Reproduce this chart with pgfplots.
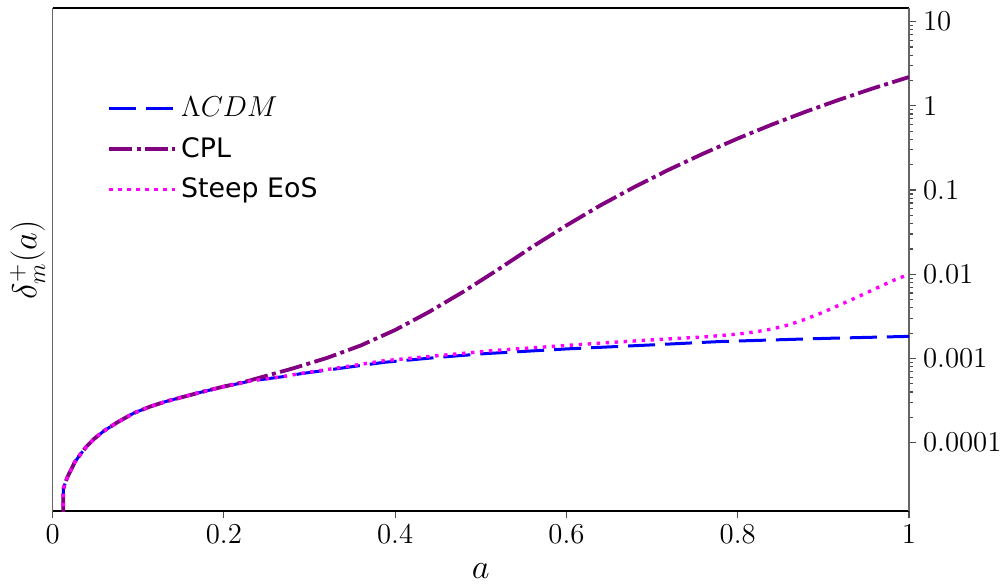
\documentclass[border=0pt]{standalone}
\usepackage{fontspec}
\usepackage{pgfplots}
\pgfplotsset{compat=1.18}
\newfontfamily\dejavu{DejaVu Sans}
\definecolor{mplpurple}{RGB}{128,0,128}
\definecolor{mplblue}{RGB}{0,0,255}
\definecolor{mplmagenta}{RGB}{255,0,255}

\begin{document}
\begin{tikzpicture}
\begin{axis}[
  scale only axis, width=428.2pt, height=251.4pt,
  at={(0,0)}, anchor=south west,
  xmin=0, xmax=1, ymode=log, ymin=1.54e-5, ymax=14.4,
  xtick={0,0.2,0.4,0.6,0.8,1},
  xticklabels={$0$,$0.2$,$0.4$,$0.6$,$0.8$,$1$},
  ytick={1e-4,1e-3,1e-2,1e-1,1,10},
  yticklabels={$0.0001$,$0.001$,$0.01$,$0.1$,$1$,$10$},
  xtick pos=bottom, ytick pos=right, yticklabel pos=right,
  tick align=outside,
  major tick length=3.5pt, minor tick length=2pt,
  every tick/.style={black!70, line width=0.6pt},
  tick label style={font=\fontsize{13.5}{16}\selectfont},
  separate axis lines,
  x axis line style={black, line width=0.8pt},
  y axis line style={black!60, line width=0.8pt},
  xlabel={$a$}, ylabel={$\delta_m^+(a)$},
  every axis x label/.style={at={(rel axis cs:0.5,0)}, anchor=center, yshift=-30pt,
    font=\fontsize{18}{20}\selectfont},
  every axis y label/.style={at={(rel axis cs:-0.0292,0.5)}, anchor=center, rotate=90,
    font=\fontsize{18}{20}\selectfont},
  legend cell align=left,
  legend style={draw=none, fill=none, at={(rel axis cs:0.0565,0.84)}, anchor=north west,
    row sep=4.8pt, font=\fontsize{13.4}{15}\selectfont},
  legend image code/.code={\draw[#1] (0pt,0pt) -- (26.5pt,0pt); \path (0pt,0pt) -- (33pt,0pt);},
]
\addplot[mplblue, line width=1.5pt, dash pattern=on 13.5pt off 5pt] coordinates {
(0.0122,1e-7) (0.0125,2.81e-5) (0.015,3.4e-5) (0.018,4.05e-5) (0.021,4.64e-5)
(0.026,5.9e-5) (0.0327,7.33e-5) (0.04,9.1e-5) (0.0483,1.107e-4) (0.06,1.38e-4)
(0.0756,1.745e-4) (0.095,2.25e-4) (0.1145,2.7e-4) (0.134,3.12e-4) (0.1729,3.97e-4)
(0.2,4.62e-4) (0.231,5.40e-4) (0.27,6.1e-4) (0.29,6.6e-4) (0.33,7.5e-4)
(0.387,9.0e-4) (0.45,1.03e-3) (0.504,1.14e-3) (0.601,1.30e-3) (0.70,1.45e-3)
(0.78,1.59e-3) (0.9,1.73e-3) (1.0,1.83e-3)
};
\addlegendentry{\fontsize{14.3}{16}\selectfont$\Lambda CDM$}
\addplot[mplpurple, line width=1.9pt, dash pattern=on 11.5pt off 2.2pt on 2pt off 2.2pt] coordinates {
(0.0122,1e-7) (0.0125,2.81e-5) (0.015,3.4e-5) (0.018,4.05e-5) (0.021,4.64e-5)
(0.026,5.9e-5) (0.0327,7.33e-5) (0.04,9.1e-5) (0.0483,1.107e-4) (0.06,1.38e-4)
(0.0756,1.745e-4) (0.095,2.25e-4) (0.1145,2.7e-4) (0.134,3.12e-4) (0.1729,3.97e-4)
(0.2,4.65e-4) (0.215,5.01e-4) (0.23,5.47e-4) (0.25,6.24e-4) (0.28,7.59e-4)
(0.32,1.012e-3) (0.36,1.429e-3) (0.40,2.178e-3) (0.44,3.589e-3) (0.48,6.237e-3)
(0.52,0.01135) (0.56,0.02113) (0.60,0.03802) (0.64,0.06607) (0.68,0.1096)
(0.72,0.1754) (0.76,0.2716) (0.80,0.4093) (0.84,0.5998) (0.88,0.857)
(0.92,1.197) (0.96,1.637) (1.0,2.198)
};
\addlegendentry{\dejavu CPL}
\addplot[mplmagenta, line width=1.7pt, dash pattern=on 1.7pt off 2.8pt] coordinates {
(0.0122,1e-7) (0.0125,2.81e-5) (0.015,3.4e-5) (0.018,4.05e-5) (0.021,4.64e-5)
(0.026,5.9e-5) (0.0327,7.33e-5) (0.04,9.1e-5) (0.0483,1.107e-4) (0.06,1.38e-4)
(0.0756,1.745e-4) (0.095,2.25e-4) (0.1145,2.7e-4) (0.134,3.12e-4) (0.1729,3.97e-4)
(0.2,4.62e-4) (0.231,5.40e-4) (0.27,6.12e-4) (0.29,6.65e-4) (0.33,7.65e-4)
(0.387,9.4e-4) (0.45,1.08e-3) (0.516,1.245e-3) (0.601,1.43e-3) (0.66,1.57e-3)
(0.72,1.71e-3) (0.76,1.80e-3) (0.80,1.95e-3) (0.82,2.065e-3) (0.84,2.239e-3)
(0.86,2.512e-3) (0.88,2.951e-3) (0.90,3.548e-3) (0.92,4.365e-3) (0.94,5.37e-3)
(0.96,6.683e-3) (0.98,8.318e-3) (1.0,0.01)
};
\addlegendentry{\dejavu Steep EoS}
\end{axis}
\pgfresetboundingbox
\path[use as bounding box] (-26.3pt,-38pt) rectangle (473.7pt,255.55pt);
\end{tikzpicture}
\end{document}
